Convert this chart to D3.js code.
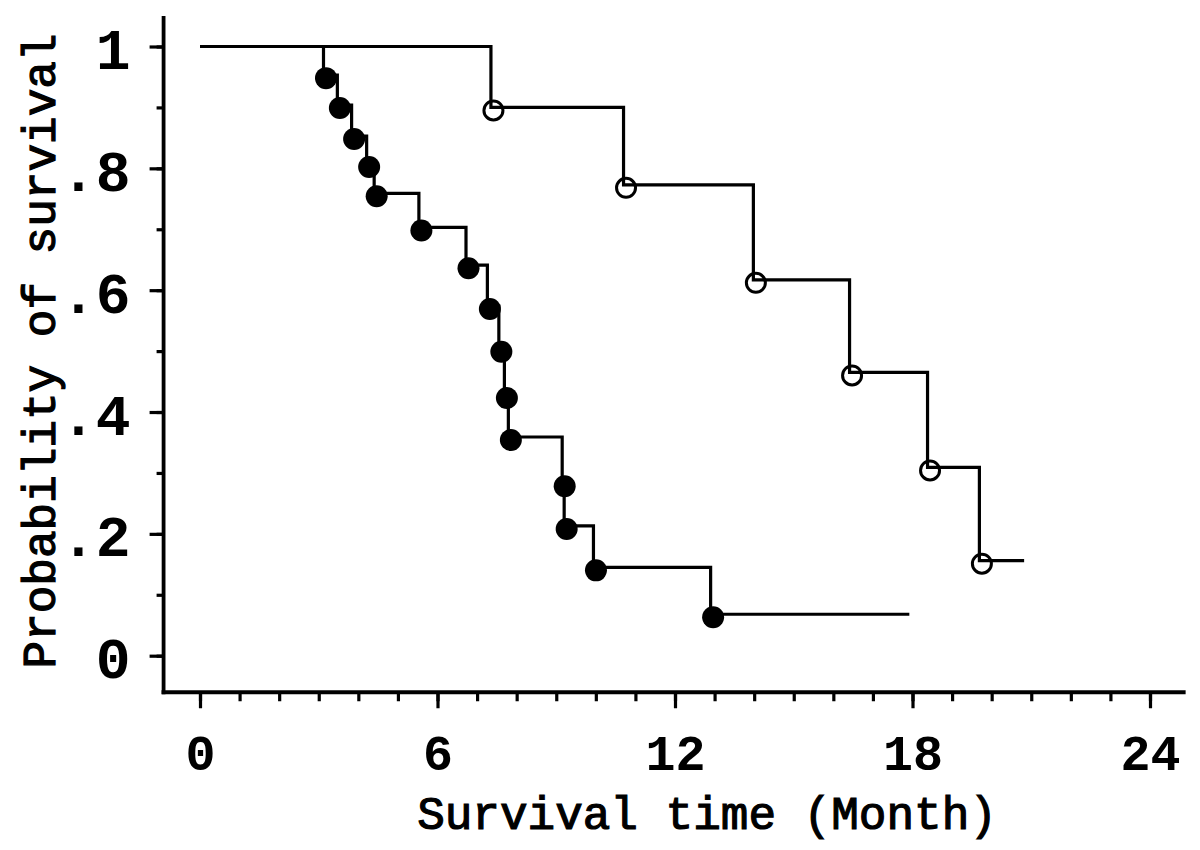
<!DOCTYPE html>
<html>
<head>
<meta charset="utf-8">
<script src="https://cdn.jsdelivr.net/npm/d3@7"></script>
<style>
  html, body { margin: 0; padding: 0; background: #fff; }
  svg { display: block; }
</style>
</head>
<body>
<svg id="chart" width="1200" height="850"></svg>
<script>
// ---- data ----
// Group A (filled dots): event times (months) and survival after each event
const groupATimes = [3.12, 3.47, 3.83, 4.21, 4.40, 5.53, 6.72, 7.26, 7.55, 7.69, 7.79, 9.15, 9.20, 9.94, 12.90];
const groupASurv  = [0.953, 0.904, 0.853, 0.807, 0.759, 0.703, 0.641, 0.574, 0.504, 0.428, 0.359, 0.283, 0.213, 0.145, 0.068];
const groupAEnd   = 17.92;

// Group B (open circles)
const groupBTimes = [7.35, 10.70, 13.98, 16.41, 18.38, 19.69];
const groupBSurv  = [0.900, 0.773, 0.617, 0.465, 0.309, 0.156];
const groupBEnd   = 20.82;

const xTickValues = [0, 6, 12, 18, 24];
const xTickLabels = ["0", "6", "12", "18", "24"];
const yTickValues = [0, 0.2, 0.4, 0.6, 0.8, 1];
const yTickLabels = ["0", ".2", ".4", ".6", ".8", "1"];
const xMinorTicks = d3.range(0, 25, 1);
const yMinorTicks = d3.range(0, 11, 1).map(d => d / 10);
const xAxisExtent = [-0.92, 24.9];
const yAxisExtent = [-0.06, 1.05];

const xTitle = "Survival time (Month)";
const yTitle = "Probability of survival";

// ---- layout ----
const FONT = "'Courier New', 'Nimbus Mono PS', FreeMono, 'Liberation Mono', monospace";
const svg = d3.select("#chart");
const x = d3.scaleLinear().domain([0, 24]).range([200, 1150]);
const y = d3.scaleLinear().domain([0, 1]).range([655.7, 46.5]);
const axisX = x(xAxisExtent[0]);   // position of y axis line
const axisY = y(yAxisExtent[0]);   // position of x axis line

// axis lines
svg.append("line")
  .attr("x1", axisX).attr("x2", axisX)
  .attr("y1", y(yAxisExtent[1])).attr("y2", axisY + 2)
  .attr("stroke", "#000").attr("stroke-width", 3.8);
svg.append("line")
  .attr("x1", axisX - 2).attr("x2", x(xAxisExtent[1]))
  .attr("y1", axisY).attr("y2", axisY)
  .attr("stroke", "#000").attr("stroke-width", 3.8);

// y axis: minor ticks
const gyMinor = svg.append("g").attr("transform", `translate(${axisX},0)`)
  .call(d3.axisLeft(y).tickValues(yMinorTicks).tickSize(7).tickFormat(""));
// y axis: major ticks + labels
const gy = svg.append("g").attr("transform", `translate(${axisX},0)`)
  .call(d3.axisLeft(y).tickValues(yTickValues).tickSize(14)
    .tickFormat((d, i) => yTickLabels[i]));
gy.selectAll("text")
  .attr("x", -33).attr("y", 22).attr("dy", 0)
  .attr("text-anchor", "end")
  .style("font-family", FONT).style("font-size", "58px").style("font-weight", "bold")
  .attr("fill", "#000");

// x axis: minor ticks
const gxMinor = svg.append("g").attr("transform", `translate(0,${axisY})`)
  .call(d3.axisBottom(x).tickValues(xMinorTicks).tickSize(9).tickFormat(""));
// x axis: major ticks + labels
const gx = svg.append("g").attr("transform", `translate(0,${axisY})`)
  .call(d3.axisBottom(x).tickValues(xTickValues).tickSize(16)
    .tickFormat((d, i) => xTickLabels[i]));
gx.selectAll("text")
  .attr("y", 78).attr("dy", 0)
  .attr("text-anchor", "middle")
  .style("font-family", FONT).style("font-size", "50px").style("font-weight", "bold")
  .attr("fill", "#000");

[gyMinor, gy, gxMinor, gx].forEach(g => {
  g.select(".domain").remove();
  g.selectAll(".tick line").attr("stroke", "#000").attr("stroke-width", 3.2);
});

// axis titles (medium weight: regular face with a thin outline)
svg.append("text")
  .attr("x", 707).attr("y", 829)
  .attr("text-anchor", "middle")
  .style("font-family", FONT).style("font-size", "46px").style("font-weight", "normal")
  .attr("fill", "#000").attr("stroke", "#000").attr("stroke-width", 1.2)
  .text(xTitle);
svg.append("text")
  .attr("transform", "translate(55,351) rotate(-90)")
  .attr("text-anchor", "middle")
  .style("font-family", FONT).style("font-size", "46px").style("font-weight", "normal")
  .attr("fill", "#000").attr("stroke", "#000").attr("stroke-width", 1.2)
  .text(yTitle);

// survival step curves
function stepPoints(times, surv, end) {
  const pts = [[0, 1]];
  times.forEach((t, i) => pts.push([t, surv[i]]));
  pts.push([end, surv[surv.length - 1]]);
  return pts;
}
const line = d3.line().x(d => x(d[0])).y(d => y(d[1])).curve(d3.curveStepAfter);

svg.append("path")
  .datum(stepPoints(groupATimes, groupASurv, groupAEnd))
  .attr("d", line).attr("fill", "none").attr("stroke", "#000").attr("stroke-width", 3.2);
svg.append("path")
  .datum(stepPoints(groupBTimes, groupBSurv, groupBEnd))
  .attr("d", line).attr("fill", "none").attr("stroke", "#000").attr("stroke-width", 3.2);

// markers (drawn slightly offset as in the original plot)
const markA = svg.append("g").attr("transform", "translate(2.5,3)");
markA.selectAll("circle")
  .data(groupATimes.map((t, i) => [t, groupASurv[i]]))
  .join("circle")
  .attr("cx", d => x(d[0])).attr("cy", d => y(d[1]))
  .attr("r", 11).attr("fill", "#000");

const markB = svg.append("g").attr("transform", "translate(2.5,3)");
markB.selectAll("circle")
  .data(groupBTimes.map((t, i) => [t, groupBSurv[i]]))
  .join("circle")
  .attr("cx", d => x(d[0])).attr("cy", d => y(d[1]))
  .attr("r", 9.5).attr("fill", "none").attr("stroke", "#000").attr("stroke-width", 3);
</script>
</body>
</html>
